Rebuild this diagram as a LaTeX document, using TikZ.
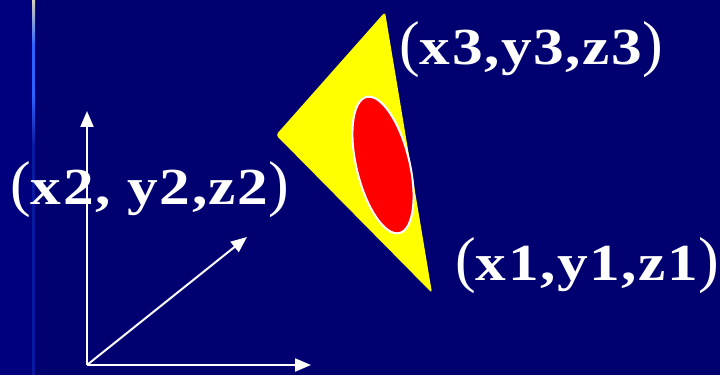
\documentclass[tikz,border=0pt]{standalone}
\usepackage{fontspec}
\setmainfont{Liberation Serif}
\newfontfamily\labelbold{Liberation Serif}[FakeStretch=1.18,LetterSpace=3]
\usetikzlibrary{arrows.meta,shapes.geometric}
\definecolor{bgnavy}{HTML}{000070}
\definecolor{bgleft}{HTML}{00007E}
\definecolor{edgeline}{HTML}{0A1AA0}
\definecolor{edgebright}{HTML}{2F63FF}
\definecolor{edgetop}{HTML}{D8D0B8}
\definecolor{triyellow}{HTML}{FFFF00}
\definecolor{ellred}{HTML}{FF0000}
\newcommand{\cparen}[1]{{\fontsize{62}{62}\selectfont\mdseries #1}}
\newcommand{\ctriple}[1]{\cparen{(}{\labelbold\bfseries\fontsize{52}{52}\selectfont #1}\cparen{)}}
\begin{document}
\begin{tikzpicture}[x=1pt,y=1pt,
  axisline/.style={draw=white,line width=2pt,-{Triangle[length=16pt,width=13pt]}},
  coordlabel/.style={text=white,inner sep=0pt,anchor=base west}]
\useasboundingbox (0,0) rectangle (720,375);
\fill[bgnavy] (0,0) rectangle (720,375);
\fill[bgleft] (0,0) rectangle (32,375);
% left edge decorative line
\fill[edgeline] (32,0) rectangle (35,375);
\shade[top color=edgetop,bottom color=edgebright] (32,375) rectangle (35,330);
\fill[edgebright] (32,330) rectangle (35,280);
\shade[top color=edgebright,bottom color=edgeline] (32,280) rectangle (35,230);
% axes
\coordinate (O) at (87,10);
\coordinate (Ytip) at (87,264);
\coordinate (Xtip) at (311,10);
\coordinate (Ztip) at (247,138);
\draw[axisline] (O) -- (Ytip);
\draw[axisline] (O) -- (Xtip);
\draw[axisline] (O) -- (Ztip);
% triangle
\coordinate (P3) at (385,363);
\coordinate (P2) at (276,240);
\coordinate (P1) at (432,82);
\fill[triyellow,rounded corners=3pt] (P3) -- (P2) -- (P1) -- cycle;
% ellipse
\node[ellipse,fill=ellred,draw=white,line width=2pt,minimum width=140pt,minimum height=53pt,inner sep=0pt,rotate=-76.4] (E) at (383,210) {};
% labels
\node[coordlabel] (L3) at (399,310) {\ctriple{x3,y3,z3}};
\node[coordlabel] (L2) at (10,170) {\ctriple{x2, y2,z2}};
\node[coordlabel] (L1) at (455,95) {\ctriple{x1,y1,z1}};
\end{tikzpicture}
\end{document}
